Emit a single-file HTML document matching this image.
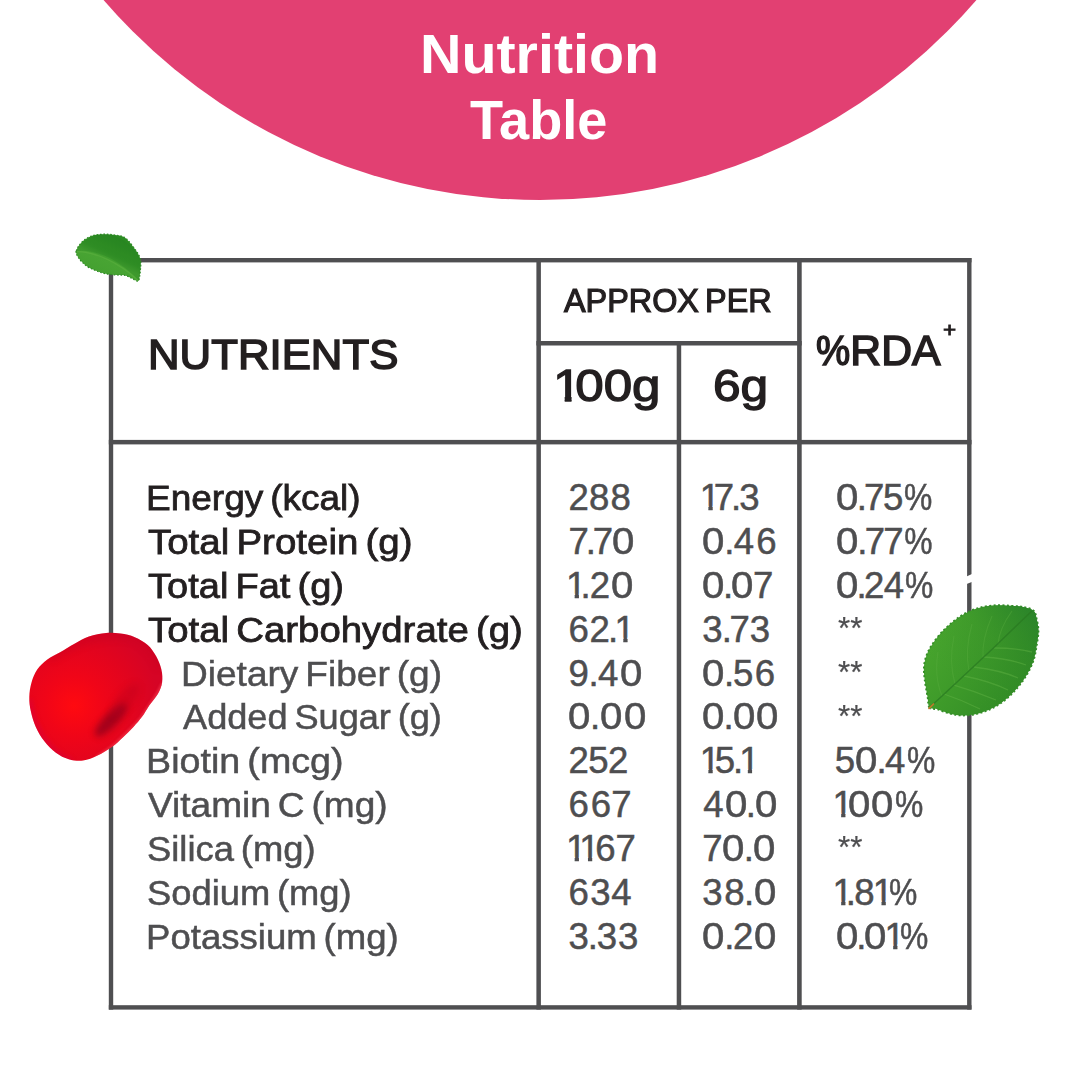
<!DOCTYPE html>
<html><head><meta charset="utf-8"><title>Nutrition Table</title>
<style>
html,body{margin:0;padding:0;}
body{width:1080px;height:1080px;position:relative;overflow:hidden;background:#fff;font-family:"Liberation Sans",sans-serif;}
.circle{position:absolute;left:-36.1px;top:-951.6px;width:1151.6px;height:1151.6px;border-radius:50%;background:#e24072;}
.t{position:absolute;white-space:nowrap;transform-origin:0 0;display:block;}
.t b{font-weight:inherit;display:inline-block;}
.l{position:absolute;background:#4f4f51;}
svg.decor{position:absolute;left:0;top:0;}
.d0{margin:0 1.46px 0 1.46px}.d1{margin:0 -5.14px 0 -2.02px}.d2{margin:0 -0.46px 0 -0.46px}.d3{margin:0 0.22px 0 0.22px}.d4{margin:0 0.27px 0 0.27px}.d5{margin:0 -0.27px 0 -0.27px}.d6{margin:0 0.81px 0 0.81px}.d7{margin:0 -1.06px 0 -1.06px}.d8{margin:0 0.48px 0 0.48px}.d9{margin:0 0.73px 0 0.73px}.dp{margin:0 -1.90px 0 -1.90px}.dc{margin:0 -0.77px 0 -0.77px}.h1{margin-right:-5.4px;clip-path:polygon(-2px 0,100% 0,100% 32.29px,16.06px 32.29px,16.06px 100%,10.14px 100%,10.14px 32.29px,-2px 32.29px)}.hp{transform:scaleX(.9);margin:0 -1.8px}.dc{transform:scaleX(.87)}.d0{transform:scaleX(1.1)}.d1{clip-path:polygon(0 0,100% 0,100% 25.65px,12.94px 25.65px,12.94px 100%,8.70px 100%,8.70px 25.65px,0 25.65px)}
</style></head>
<body>
<div class="circle"></div>
<svg class="decor" width="1080" height="1080" viewBox="0 0 1080 1080"><g fill="#4f4f51"><rect x="108.8" y="258.0" width="862.7" height="4.4"/><rect x="108.8" y="1005.2" width="862.7" height="4.4"/><rect x="108.8" y="258.0" width="4.4" height="751.6"/><rect x="967.1" y="258.0" width="4.4" height="751.6"/><rect x="108.8" y="439.9" width="862.7" height="4.5"/><rect x="536.4" y="258.0" width="4.5" height="751.6"/><rect x="797.1" y="258.0" width="4.6" height="751.6"/><rect x="676.7" y="341.0" width="4.5" height="668.6"/><rect x="536.4" y="341.0" width="265.3" height="4.5"/></g></svg>
<span class="t" style="left:420.15px;top:27.20px;font-size:54.7px;line-height:54.7px;color:#ffffff;transform:scaleX(1.0495);font-weight:700;">Nutrition</span>
<span class="t" style="left:470.00px;top:93.30px;font-size:54.7px;line-height:54.7px;color:#ffffff;transform:scaleX(0.9901);font-weight:700;">Table</span>
<span class="t" style="left:147.76px;top:333.23px;font-size:43.2px;line-height:43.2px;color:#231f20;transform:scaleX(1.0131);-webkit-text-stroke:1.6px #231f20;">NUTRIENTS</span>
<span class="t" style="left:564.40px;top:283.67px;font-size:33.0px;line-height:33.0px;color:#231f20;transform:scaleX(0.9812);-webkit-text-stroke:1.2px #231f20;word-spacing:-2.97px;">APPROX PER</span>
<span class="t" style="left:553.36px;top:363.50px;font-size:44.3px;line-height:44.3px;color:#231f20;transform:scaleX(1.1545);-webkit-text-stroke:1.3px #231f20;"><b class="h1">1</b>00g</span>
<span class="t" style="left:712.91px;top:363.50px;font-size:44.3px;line-height:44.3px;color:#231f20;transform:scaleX(1.1202);-webkit-text-stroke:1.3px #231f20;">6g</span>
<span class="t" style="left:816.10px;top:329.17px;font-size:42.8px;line-height:42.8px;color:#231f20;transform:scaleX(0.9971);-webkit-text-stroke:1.6px #231f20;"><b class="hp">%</b>RDA</span>
<span class="t" style="left:942.88px;top:318.52px;font-size:21px;line-height:21px;color:#231f20;transform:scaleX(1.0727);-webkit-text-stroke:0.9px #231f20;">+</span>
<span class="t" style="left:146.11px;top:481.23px;font-size:35.4px;line-height:35.4px;color:#231f20;transform:scaleX(1.0456);-webkit-text-stroke:0.8px #231f20;word-spacing:-3.19px;">Energy (kcal)</span>
<span class="t" style="left:568.96px;top:480.22px;font-size:36.6px;line-height:36.6px;color:#4e4e50;transform:scaleX(1.0000);-webkit-text-stroke:0.5px #4e4e50;letter-spacing:0.17px;"><b class="d2">2</b><b class="d8">8</b><b class="d8">8</b></span>
<span class="t" style="left:701.75px;top:480.22px;font-size:36.6px;line-height:36.6px;color:#4e4e50;transform:scaleX(1.0000);-webkit-text-stroke:0.5px #4e4e50;letter-spacing:-0.16px;"><b class="d1">1</b><b class="d7">7</b><b class="dp">.</b><b class="d3">3</b></span>
<span class="t" style="left:835.46px;top:480.22px;font-size:36.6px;line-height:36.6px;color:#4e4e50;transform:scaleX(1.0000);-webkit-text-stroke:0.5px #4e4e50;letter-spacing:-0.07px;"><b class="d0">0</b><b class="dp">.</b><b class="d7">7</b><b class="d5">5</b><b class="dc">%</b></span>
<span class="t" style="left:148.20px;top:525.08px;font-size:35.4px;line-height:35.4px;color:#231f20;transform:scaleX(1.0867);-webkit-text-stroke:0.8px #231f20;word-spacing:-3.19px;">Total Protein (g)</span>
<span class="t" style="left:569.56px;top:524.07px;font-size:36.6px;line-height:36.6px;color:#4e4e50;transform:scaleX(1.0000);-webkit-text-stroke:0.5px #4e4e50;letter-spacing:-0.15px;"><b class="d7">7</b><b class="dp">.</b><b class="d7">7</b><b class="d0">0</b></span>
<span class="t" style="left:701.71px;top:524.07px;font-size:36.6px;line-height:36.6px;color:#4e4e50;transform:scaleX(1.0000);-webkit-text-stroke:0.5px #4e4e50;letter-spacing:1.08px;"><b class="d0">0</b><b class="dp">.</b><b class="d4">4</b><b class="d6">6</b></span>
<span class="t" style="left:835.46px;top:524.07px;font-size:36.6px;line-height:36.6px;color:#4e4e50;transform:scaleX(1.0000);-webkit-text-stroke:0.5px #4e4e50;letter-spacing:0.32px;"><b class="d0">0</b><b class="dp">.</b><b class="d7">7</b><b class="d7">7</b><b class="dc">%</b></span>
<span class="t" style="left:148.20px;top:568.93px;font-size:35.4px;line-height:35.4px;color:#231f20;transform:scaleX(1.0745);-webkit-text-stroke:0.8px #231f20;word-spacing:-3.19px;">Total Fat (g)</span>
<span class="t" style="left:568.00px;top:567.92px;font-size:36.6px;line-height:36.6px;color:#4e4e50;transform:scaleX(1.0000);-webkit-text-stroke:0.5px #4e4e50;letter-spacing:1.24px;"><b class="d1">1</b><b class="dp">.</b><b class="d2">2</b><b class="d0">0</b></span>
<span class="t" style="left:701.71px;top:567.92px;font-size:36.6px;line-height:36.6px;color:#4e4e50;transform:scaleX(1.0000);-webkit-text-stroke:0.5px #4e4e50;letter-spacing:-0.17px;"><b class="d0">0</b><b class="dp">.</b><b class="d0">0</b><b class="d7">7</b></span>
<span class="t" style="left:835.46px;top:567.92px;font-size:36.6px;line-height:36.6px;color:#4e4e50;transform:scaleX(1.0000);-webkit-text-stroke:0.5px #4e4e50;letter-spacing:-0.33px;"><b class="d0">0</b><b class="dp">.</b><b class="d2">2</b><b class="d4">4</b><b class="dc">%</b></span>
<span class="t" style="left:148.20px;top:612.78px;font-size:35.4px;line-height:35.4px;color:#231f20;transform:scaleX(1.0842);-webkit-text-stroke:0.8px #231f20;word-spacing:-3.19px;">Total Carbohydrate (g)</span>
<span class="t" style="left:567.69px;top:611.77px;font-size:36.6px;line-height:36.6px;color:#4e4e50;transform:scaleX(1.0000);-webkit-text-stroke:0.5px #4e4e50;letter-spacing:0.39px;"><b class="d6">6</b><b class="d2">2</b><b class="dp">.</b><b class="d1">1</b></span>
<span class="t" style="left:702.03px;top:611.77px;font-size:36.6px;line-height:36.6px;color:#4e4e50;transform:scaleX(1.0000);-webkit-text-stroke:0.5px #4e4e50;letter-spacing:0.72px;"><b class="d3">3</b><b class="dp">.</b><b class="d7">7</b><b class="d3">3</b></span>
<span class="t" style="left:837.60px;top:613.21px;font-size:31px;line-height:31px;color:#4e4e50;transform:scaleX(1.0119);-webkit-text-stroke:0.2px #4e4e50;">**</span>
<span class="t" style="left:180.66px;top:656.63px;font-size:35.4px;line-height:35.4px;color:#4e4e50;transform:scaleX(1.0473);-webkit-text-stroke:0.5px #4e4e50;word-spacing:-3.19px;">Dietary Fiber (g)</span>
<span class="t" style="left:567.77px;top:655.62px;font-size:36.6px;line-height:36.6px;color:#4e4e50;transform:scaleX(1.0000);-webkit-text-stroke:0.5px #4e4e50;letter-spacing:0.87px;"><b class="d9">9</b><b class="dp">.</b><b class="d4">4</b><b class="d0">0</b></span>
<span class="t" style="left:701.71px;top:655.62px;font-size:36.6px;line-height:36.6px;color:#4e4e50;transform:scaleX(1.0000);-webkit-text-stroke:0.5px #4e4e50;letter-spacing:0.94px;"><b class="d0">0</b><b class="dp">.</b><b class="d5">5</b><b class="d6">6</b></span>
<span class="t" style="left:837.60px;top:657.06px;font-size:31px;line-height:31px;color:#4e4e50;transform:scaleX(1.0119);-webkit-text-stroke:0.2px #4e4e50;">**</span>
<span class="t" style="left:182.75px;top:700.48px;font-size:35.4px;line-height:35.4px;color:#4e4e50;transform:scaleX(1.0221);-webkit-text-stroke:0.5px #4e4e50;word-spacing:-3.19px;">Added Sugar (g)</span>
<span class="t" style="left:567.96px;top:699.47px;font-size:36.6px;line-height:36.6px;color:#4e4e50;transform:scaleX(1.0000);-webkit-text-stroke:0.5px #4e4e50;letter-spacing:0.78px;"><b class="d0">0</b><b class="dp">.</b><b class="d0">0</b><b class="d0">0</b></span>
<span class="t" style="left:701.71px;top:699.47px;font-size:36.6px;line-height:36.6px;color:#4e4e50;transform:scaleX(1.0000);-webkit-text-stroke:0.5px #4e4e50;letter-spacing:0.36px;"><b class="d0">0</b><b class="dp">.</b><b class="d0">0</b><b class="d0">0</b></span>
<span class="t" style="left:837.60px;top:700.91px;font-size:31px;line-height:31px;color:#4e4e50;transform:scaleX(1.0119);-webkit-text-stroke:0.2px #4e4e50;">**</span>
<span class="t" style="left:145.92px;top:744.33px;font-size:35.4px;line-height:35.4px;color:#4e4e50;transform:scaleX(1.0648);-webkit-text-stroke:0.5px #4e4e50;word-spacing:-3.19px;">Biotin (mcg)</span>
<span class="t" style="left:568.96px;top:743.32px;font-size:36.6px;line-height:36.6px;color:#4e4e50;transform:scaleX(1.0000);-webkit-text-stroke:0.5px #4e4e50;letter-spacing:0.15px;"><b class="d2">2</b><b class="d5">5</b><b class="d2">2</b></span>
<span class="t" style="left:701.75px;top:743.32px;font-size:36.6px;line-height:36.6px;color:#4e4e50;transform:scaleX(1.0000);-webkit-text-stroke:0.5px #4e4e50;letter-spacing:0.00px;"><b class="d1">1</b><b class="d5">5</b><b class="dp">.</b><b class="d1">1</b></span>
<span class="t" style="left:835.02px;top:743.32px;font-size:36.6px;line-height:36.6px;color:#4e4e50;transform:scaleX(1.0000);-webkit-text-stroke:0.5px #4e4e50;letter-spacing:0.12px;"><b class="d5">5</b><b class="d0">0</b><b class="dp">.</b><b class="d4">4</b><b class="dc">%</b></span>
<span class="t" style="left:148.05px;top:788.18px;font-size:35.4px;line-height:35.4px;color:#4e4e50;transform:scaleX(1.0464);-webkit-text-stroke:0.5px #4e4e50;word-spacing:-3.19px;">Vitamin C (mg)</span>
<span class="t" style="left:567.69px;top:787.17px;font-size:36.6px;line-height:36.6px;color:#4e4e50;transform:scaleX(1.0000);-webkit-text-stroke:0.5px #4e4e50;letter-spacing:0.35px;"><b class="d6">6</b><b class="d6">6</b><b class="d7">7</b></span>
<span class="t" style="left:702.98px;top:787.17px;font-size:36.6px;line-height:36.6px;color:#4e4e50;transform:scaleX(1.0000);-webkit-text-stroke:0.5px #4e4e50;letter-spacing:0.31px;"><b class="d4">4</b><b class="d0">0</b><b class="dp">.</b><b class="d0">0</b></span>
<span class="t" style="left:834.50px;top:787.17px;font-size:36.6px;line-height:36.6px;color:#4e4e50;transform:scaleX(1.0000);-webkit-text-stroke:0.5px #4e4e50;letter-spacing:-0.21px;"><b class="d1">1</b><b class="d0">0</b><b class="d0">0</b><b class="dc">%</b></span>
<span class="t" style="left:147.02px;top:832.03px;font-size:35.4px;line-height:35.4px;color:#4e4e50;transform:scaleX(1.0288);-webkit-text-stroke:0.5px #4e4e50;word-spacing:-3.19px;">Silica (mg)</span>
<span class="t" style="left:568.00px;top:831.02px;font-size:36.6px;line-height:36.6px;color:#4e4e50;transform:scaleX(1.0000);-webkit-text-stroke:0.5px #4e4e50;letter-spacing:0.07px;"><b class="d1">1</b><b class="d1">1</b><b class="d6">6</b><b class="d7">7</b></span>
<span class="t" style="left:703.31px;top:831.02px;font-size:36.6px;line-height:36.6px;color:#4e4e50;transform:scaleX(1.0000);-webkit-text-stroke:0.5px #4e4e50;letter-spacing:0.42px;"><b class="d7">7</b><b class="d0">0</b><b class="dp">.</b><b class="d0">0</b></span>
<span class="t" style="left:837.60px;top:832.46px;font-size:31px;line-height:31px;color:#4e4e50;transform:scaleX(1.0119);-webkit-text-stroke:0.2px #4e4e50;">**</span>
<span class="t" style="left:147.02px;top:875.88px;font-size:35.4px;line-height:35.4px;color:#4e4e50;transform:scaleX(1.0265);-webkit-text-stroke:0.5px #4e4e50;word-spacing:-3.19px;">Sodium (mg)</span>
<span class="t" style="left:567.69px;top:874.87px;font-size:36.6px;line-height:36.6px;color:#4e4e50;transform:scaleX(1.0000);-webkit-text-stroke:0.5px #4e4e50;letter-spacing:0.28px;"><b class="d6">6</b><b class="d3">3</b><b class="d4">4</b></span>
<span class="t" style="left:702.03px;top:874.87px;font-size:36.6px;line-height:36.6px;color:#4e4e50;transform:scaleX(1.0000);-webkit-text-stroke:0.5px #4e4e50;letter-spacing:0.90px;"><b class="d3">3</b><b class="d8">8</b><b class="dp">.</b><b class="d0">0</b></span>
<span class="t" style="left:834.50px;top:874.87px;font-size:36.6px;line-height:36.6px;color:#4e4e50;transform:scaleX(1.0000);-webkit-text-stroke:0.5px #4e4e50;letter-spacing:-0.18px;"><b class="d1">1</b><b class="dp">.</b><b class="d8">8</b><b class="d1">1</b><b class="dc">%</b></span>
<span class="t" style="left:145.98px;top:919.73px;font-size:35.4px;line-height:35.4px;color:#4e4e50;transform:scaleX(1.0332);-webkit-text-stroke:0.5px #4e4e50;word-spacing:-3.19px;">Potassium (mg)</span>
<span class="t" style="left:568.28px;top:918.72px;font-size:36.6px;line-height:36.6px;color:#4e4e50;transform:scaleX(1.0000);-webkit-text-stroke:0.5px #4e4e50;letter-spacing:0.53px;"><b class="d3">3</b><b class="dp">.</b><b class="d3">3</b><b class="d3">3</b></span>
<span class="t" style="left:701.71px;top:918.72px;font-size:36.6px;line-height:36.6px;color:#4e4e50;transform:scaleX(1.0000);-webkit-text-stroke:0.5px #4e4e50;letter-spacing:1.06px;"><b class="d0">0</b><b class="dp">.</b><b class="d2">2</b><b class="d0">0</b></span>
<span class="t" style="left:835.46px;top:918.72px;font-size:36.6px;line-height:36.6px;color:#4e4e50;transform:scaleX(1.0000);-webkit-text-stroke:0.5px #4e4e50;letter-spacing:-0.62px;"><b class="d0">0</b><b class="dp">.</b><b class="d0">0</b><b class="d1">1</b><b class="dc">%</b></span>
<svg class="decor" width="1080" height="1080" viewBox="0 0 1080 1080">
<defs>
<linearGradient id="lg1" gradientUnits="userSpaceOnUse" x1="118" y1="236" x2="100" y2="276">
<stop offset="0" stop-color="#2a8a22"/><stop offset="0.45" stop-color="#359527"/><stop offset="0.62" stop-color="#48a433"/><stop offset="1" stop-color="#44a030"/>
</linearGradient>
<linearGradient id="lg2" gradientUnits="userSpaceOnUse" x1="940" y1="630" x2="1025" y2="690">
<stop offset="0" stop-color="#47a42d"/><stop offset="0.5" stop-color="#3c9829"/><stop offset="1" stop-color="#308a25"/>
</linearGradient>
<linearGradient id="lg3" gradientUnits="userSpaceOnUse" x1="960" y1="690" x2="1035" y2="615">
<stop offset="0" stop-color="#3c962b" stop-opacity="0"/><stop offset="0.55" stop-color="#2f8727" stop-opacity="0.2"/><stop offset="1" stop-color="#27802a" stop-opacity="0.75"/>
</linearGradient>
<radialGradient id="pg" gradientUnits="userSpaceOnUse" cx="74" cy="706" r="85">
<stop offset="0" stop-color="#ff0a10"/><stop offset="0.35" stop-color="#f00518"/><stop offset="0.75" stop-color="#e0041f"/><stop offset="1" stop-color="#d60425"/>
</radialGradient>
<radialGradient id="pd" gradientUnits="userSpaceOnUse" cx="109" cy="722" r="22" gradientTransform="rotate(-50 109 722) scale(1 0.45) translate(0 880)">
<stop offset="0" stop-color="#8e0018" stop-opacity="0.85"/><stop offset="1" stop-color="#b00020" stop-opacity="0"/>
</radialGradient>
<filter id="bl4" x="-50%" y="-50%" width="200%" height="200%"><feGaussianBlur stdDeviation="3.2"/></filter>
<filter id="bl2" x="-50%" y="-50%" width="200%" height="200%"><feGaussianBlur stdDeviation="2"/></filter>
<filter id="bl1" x="-50%" y="-50%" width="200%" height="200%"><feGaussianBlur stdDeviation="1"/></filter>
<clipPath id="cpl"><path d="M929.4 707.6C927.7 705.6 928.4 702.1 927.6 697.4C926.8 692.7 925.2 684.5 924.6 679.3C924.0 674.1 923.6 670.2 924.0 666.0C924.4 661.8 925.5 657.8 927.0 654.0C928.5 650.2 930.4 647.0 933.0 643.2C935.6 639.4 939.1 634.9 942.7 631.1C946.3 627.3 950.6 623.5 954.8 620.3C959.0 617.1 963.4 614.1 968.0 611.9C972.6 609.7 977.7 608.1 982.5 607.0C987.3 605.9 992.1 605.4 996.9 605.2C1001.7 605.0 1007.0 605.5 1011.4 605.8C1015.8 606.1 1019.7 606.2 1023.4 607.0C1027.1 607.8 1031.5 608.7 1033.7 610.7C1035.9 612.7 1035.9 615.7 1036.7 619.1C1037.5 622.5 1038.5 626.7 1038.5 631.1C1038.5 635.5 1037.5 640.8 1036.7 645.6C1035.9 650.4 1035.3 655.2 1033.7 660.0C1032.1 664.8 1029.7 669.9 1027.0 674.5C1024.3 679.1 1021.0 683.6 1017.4 687.8C1013.8 692.0 1009.6 696.4 1005.4 699.8C1001.2 703.2 996.7 706.0 992.1 708.3C987.5 710.6 982.5 712.5 977.7 713.7C972.9 714.9 967.8 715.5 963.2 715.5C958.6 715.5 954.2 714.7 950.0 713.7C945.8 712.7 941.3 710.5 937.9 709.5C934.5 708.5 931.1 709.6 929.4 707.6Z"/></clipPath>
<clipPath id="cps"><path d="M76.2 250.8C76.7 249.6 77.4 247.6 78.8 245.8C80.1 244.0 82.2 241.6 84.2 240.0C86.2 238.4 88.5 237.2 90.8 236.2C93.1 235.3 95.6 234.9 98.3 234.6C101.0 234.3 103.9 234.1 106.7 234.2C109.5 234.3 112.2 234.6 115.0 235.0C117.8 235.4 120.9 235.6 123.3 236.7C125.7 237.8 127.2 239.6 129.2 241.7C131.1 243.8 133.3 246.8 135.0 249.2C136.7 251.5 138.2 253.6 139.2 255.8C140.2 258.0 140.6 260.1 140.8 262.5C141.0 264.9 140.6 267.6 140.4 270.0C140.2 272.4 140.0 274.8 139.6 276.7C139.2 278.6 139.2 281.0 137.9 281.2C136.6 281.5 133.8 279.3 131.7 278.3C129.5 277.3 127.5 275.9 125.0 275.4C122.5 274.8 119.5 275.2 116.7 275.0C113.9 274.8 111.0 274.6 108.3 274.2C105.6 273.8 103.1 273.2 100.8 272.5C98.5 271.8 96.4 271.0 94.2 270.0C92.0 269.0 89.5 267.9 87.5 266.7C85.5 265.4 84.0 264.0 82.5 262.5C81.0 261.0 79.3 259.0 78.3 257.5C77.3 256.0 76.6 254.4 76.2 253.3C75.9 252.2 75.8 252.1 76.2 250.8Z"/></clipPath>
<clipPath id="cpp"><path d="M106.1 632.9C111.4 632.4 115.7 632.9 120.5 633.6C125.3 634.3 130.3 635.3 134.8 637.2C139.3 639.1 144.1 641.9 147.7 645.1C151.3 648.3 154.0 652.5 156.3 656.6C158.6 660.7 160.4 665.2 161.4 669.5C162.4 673.8 162.7 678.3 162.1 682.4C161.5 686.5 160.0 690.1 157.8 693.9C155.7 697.7 151.8 701.6 149.2 705.4C146.6 709.2 144.6 713.2 142.0 716.8C139.4 720.4 136.5 723.5 133.4 726.9C130.3 730.2 126.9 733.5 123.3 736.9C119.7 740.2 116.1 743.9 111.8 747.0C107.5 750.1 102.3 753.3 97.5 755.6C92.7 757.9 87.9 760.0 83.1 760.6C78.3 761.2 73.3 760.5 68.8 759.2C64.3 757.9 60.0 755.7 55.9 752.7C51.8 749.7 47.8 745.5 44.4 741.2C41.0 736.9 38.1 731.9 35.8 726.9C33.5 721.9 31.9 716.1 30.8 711.1C29.7 706.1 29.2 701.6 29.3 696.8C29.4 692.0 30.2 686.9 31.5 682.4C32.8 677.9 34.6 673.3 37.2 669.5C39.8 665.7 43.5 662.3 47.3 659.4C51.1 656.5 55.7 654.9 60.2 652.3C64.7 649.7 69.7 646.3 74.5 643.7C79.3 641.1 83.6 638.3 88.9 636.5C94.2 634.7 100.8 633.4 106.1 632.9Z"/></clipPath>
</defs>
<polygon points="966,576.8 973,573.6 973,581.6 966,584.2" fill="#fff"/>
<!-- small leaf -->
<path d="M76.2 250.8C76.7 249.6 77.4 247.6 78.8 245.8C80.1 244.0 82.2 241.6 84.2 240.0C86.2 238.4 88.5 237.2 90.8 236.2C93.1 235.3 95.6 234.9 98.3 234.6C101.0 234.3 103.9 234.1 106.7 234.2C109.5 234.3 112.2 234.6 115.0 235.0C117.8 235.4 120.9 235.6 123.3 236.7C125.7 237.8 127.2 239.6 129.2 241.7C131.1 243.8 133.3 246.8 135.0 249.2C136.7 251.5 138.2 253.6 139.2 255.8C140.2 258.0 140.6 260.1 140.8 262.5C141.0 264.9 140.6 267.6 140.4 270.0C140.2 272.4 140.0 274.8 139.6 276.7C139.2 278.6 139.2 281.0 137.9 281.2C136.6 281.5 133.8 279.3 131.7 278.3C129.5 277.3 127.5 275.9 125.0 275.4C122.5 274.8 119.5 275.2 116.7 275.0C113.9 274.8 111.0 274.6 108.3 274.2C105.6 273.8 103.1 273.2 100.8 272.5C98.5 271.8 96.4 271.0 94.2 270.0C92.0 269.0 89.5 267.9 87.5 266.7C85.5 265.4 84.0 264.0 82.5 262.5C81.0 261.0 79.3 259.0 78.3 257.5C77.3 256.0 76.6 254.4 76.2 253.3C75.9 252.2 75.8 252.1 76.2 250.8Z" fill="url(#lg1)" stroke="#2d8a24" stroke-width="1.2" stroke-dasharray="1.6 1.8" stroke-linejoin="round"/>
<g clip-path="url(#cps)">
<path d="M76 251 C95 249 118 258 139 281 L141 262 C135 245 120 236 106 234 C92 234 80 242 76 251 Z" fill="#1c741b" opacity="0.22"/>
<path d="M77 251.5 C96 252 120 263 138 280.5" stroke="#5db040" stroke-width="1.4" fill="none" opacity="0.55"/>
</g>
<!-- big leaf -->
<path d="M929.4 707.6C927.7 705.6 928.4 702.1 927.6 697.4C926.8 692.7 925.2 684.5 924.6 679.3C924.0 674.1 923.6 670.2 924.0 666.0C924.4 661.8 925.5 657.8 927.0 654.0C928.5 650.2 930.4 647.0 933.0 643.2C935.6 639.4 939.1 634.9 942.7 631.1C946.3 627.3 950.6 623.5 954.8 620.3C959.0 617.1 963.4 614.1 968.0 611.9C972.6 609.7 977.7 608.1 982.5 607.0C987.3 605.9 992.1 605.4 996.9 605.2C1001.7 605.0 1007.0 605.5 1011.4 605.8C1015.8 606.1 1019.7 606.2 1023.4 607.0C1027.1 607.8 1031.5 608.7 1033.7 610.7C1035.9 612.7 1035.9 615.7 1036.7 619.1C1037.5 622.5 1038.5 626.7 1038.5 631.1C1038.5 635.5 1037.5 640.8 1036.7 645.6C1035.9 650.4 1035.3 655.2 1033.7 660.0C1032.1 664.8 1029.7 669.9 1027.0 674.5C1024.3 679.1 1021.0 683.6 1017.4 687.8C1013.8 692.0 1009.6 696.4 1005.4 699.8C1001.2 703.2 996.7 706.0 992.1 708.3C987.5 710.6 982.5 712.5 977.7 713.7C972.9 714.9 967.8 715.5 963.2 715.5C958.6 715.5 954.2 714.7 950.0 713.7C945.8 712.7 941.3 710.5 937.9 709.5C934.5 708.5 931.1 709.6 929.4 707.6Z" fill="url(#lg2)" stroke="#358e28" stroke-width="1.8" stroke-dasharray="2 2.4" stroke-linejoin="round"/>
<g clip-path="url(#cpl)">
<rect x="920" y="600" width="125" height="120" fill="url(#lg3)"/>
<g stroke="#63b446" stroke-width="1.3" fill="none" opacity="0.45">
<path d="M944 694 C956 698 968 703 980 709"/>
<path d="M954 685 C968 689 982 694 996 700"/>
<path d="M964 676 C979 679 994 683 1008 690"/>
<path d="M974 667 C990 669 1005 672 1018 678"/>
<path d="M984 657 C999 658 1013 660 1026 665"/>
<path d="M994 648 C1007 648 1020 649 1032 652"/>
</g>
<g stroke="#5aad40" stroke-width="1.1" fill="none" opacity="0.4">
<path d="M942 696 C937 684 935 670 938 652"/>
<path d="M955 684 C951 670 950 655 954 636"/>
<path d="M969 671 C966 657 967 642 972 624"/>
<path d="M983 658 C982 645 985 632 992 616"/>
<path d="M998 644 C999 633 1004 622 1012 611"/>
</g>
<path d="M929.4 707.6 C950 689 973 667 994 647.4 C1007 635 1019 623 1032 611" stroke="#2a7a22" stroke-width="1.4" fill="none" opacity="0.75"/>
</g>
<path d="M929 708.3 L933.5 704" stroke="#c07a2c" stroke-width="1.7" fill="none" stroke-linecap="round"/>
<!-- petal -->
<path d="M106.1 632.9C111.4 632.4 115.7 632.9 120.5 633.6C125.3 634.3 130.3 635.3 134.8 637.2C139.3 639.1 144.1 641.9 147.7 645.1C151.3 648.3 154.0 652.5 156.3 656.6C158.6 660.7 160.4 665.2 161.4 669.5C162.4 673.8 162.7 678.3 162.1 682.4C161.5 686.5 160.0 690.1 157.8 693.9C155.7 697.7 151.8 701.6 149.2 705.4C146.6 709.2 144.6 713.2 142.0 716.8C139.4 720.4 136.5 723.5 133.4 726.9C130.3 730.2 126.9 733.5 123.3 736.9C119.7 740.2 116.1 743.9 111.8 747.0C107.5 750.1 102.3 753.3 97.5 755.6C92.7 757.9 87.9 760.0 83.1 760.6C78.3 761.2 73.3 760.5 68.8 759.2C64.3 757.9 60.0 755.7 55.9 752.7C51.8 749.7 47.8 745.5 44.4 741.2C41.0 736.9 38.1 731.9 35.8 726.9C33.5 721.9 31.9 716.1 30.8 711.1C29.7 706.1 29.2 701.6 29.3 696.8C29.4 692.0 30.2 686.9 31.5 682.4C32.8 677.9 34.6 673.3 37.2 669.5C39.8 665.7 43.5 662.3 47.3 659.4C51.1 656.5 55.7 654.9 60.2 652.3C64.7 649.7 69.7 646.3 74.5 643.7C79.3 641.1 83.6 638.3 88.9 636.5C94.2 634.7 100.8 633.4 106.1 632.9Z" fill="url(#pg)"/>
<g clip-path="url(#cpp)">
<ellipse cx="111" cy="720" rx="22" ry="7" transform="rotate(-46 111 720)" fill="#86001a" opacity="0.7" filter="url(#bl4)"/>
<ellipse cx="125" cy="700" rx="20" ry="8" transform="rotate(-50 125 700)" fill="#b8001e" opacity="0.35" filter="url(#bl4)"/>
<path d="M163 683 C158 695 149 706 142 717 C134 727 123 737 112 747 C106 751 100 755 96 758" stroke="#f53a50" stroke-width="3.5" fill="none" opacity="0.6" filter="url(#bl1)"/>
<path d="M30 700 C33 730 50 752 72 761" stroke="#d8063e" stroke-width="5" fill="none" opacity="0.55" filter="url(#bl2)"/>
<path d="M50 658 C75 642 100 632 130 636 C145 640 155 652 161 668" stroke="#c40322" stroke-width="9" fill="none" opacity="0.35" filter="url(#bl4)"/>
</g>
</svg>

</body></html>
